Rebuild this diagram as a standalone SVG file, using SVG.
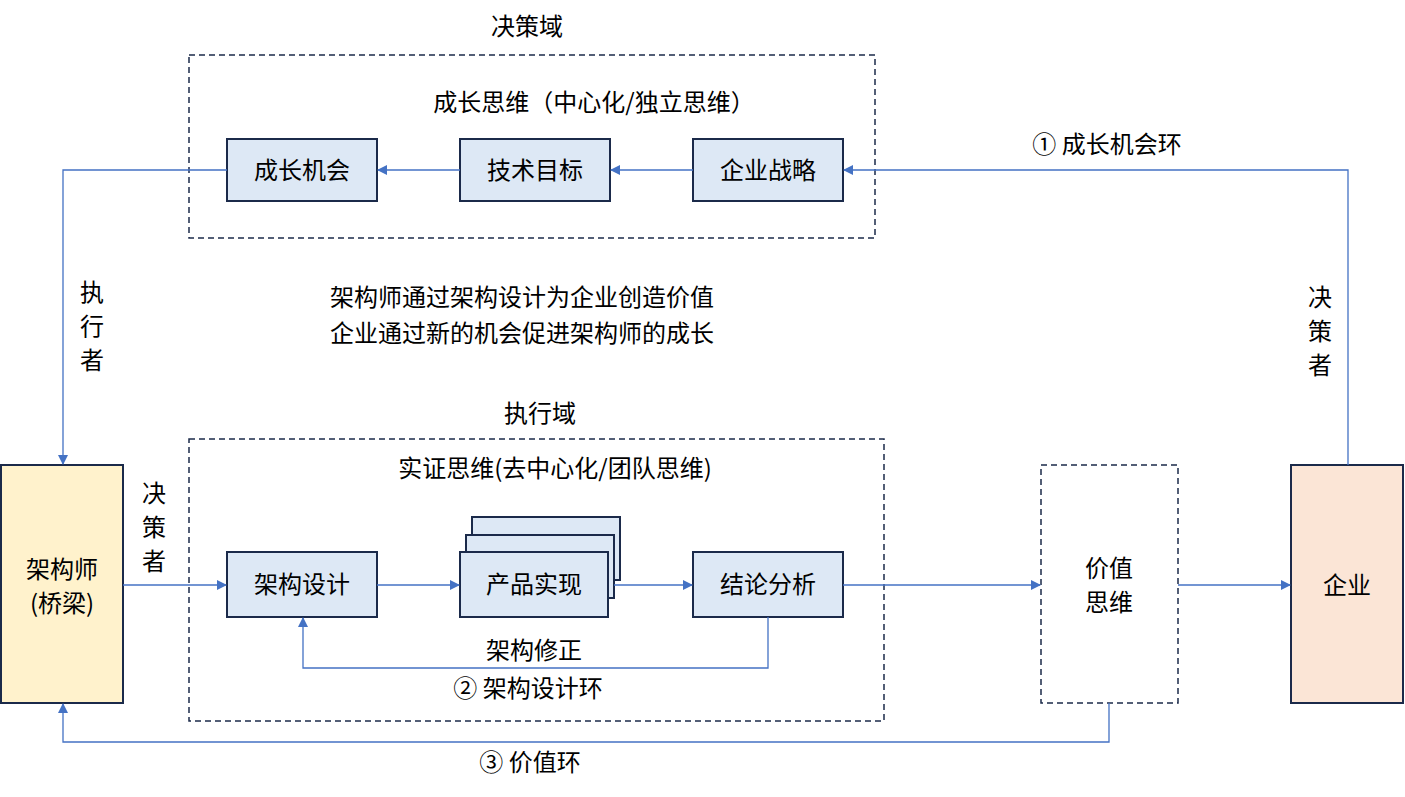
<svg xmlns="http://www.w3.org/2000/svg" width="1405" height="797" viewBox="0 0 1405 797">
<style>
text{font-family:"Noto Sans CJK SC","Liberation Sans",sans-serif;font-size:24px;fill:#000;}
.n{fill:#dde8f5;stroke:#1b2a4a;stroke-width:2;}
.d{fill:none;stroke:#1b2a4a;stroke-width:1.5;stroke-dasharray:6,4;}
.c{fill:none;stroke:#4472c4;stroke-width:1.3;}
</style>
<defs><marker id="a" markerWidth="10" markerHeight="10" refX="9" refY="5" orient="auto" markerUnits="userSpaceOnUse"><path d="M0,0L10,5L0,10z" fill="#4472c4"/></marker></defs>
<rect width="1405" height="797" fill="#fff"/>
<g id="domains">
<rect class="d" x="189" y="55" width="686" height="183"/>
<rect class="d" x="189" y="439" width="695" height="282"/>
<text x="527" y="35" text-anchor="middle">决策域</text>
<text x="594" y="111" text-anchor="middle">成长思维（中心化/独立思维）</text>
<text x="540" y="422" text-anchor="middle">执行域</text>
<text x="555" y="477" text-anchor="middle">实证思维(去中心化/团队思维)</text>
<text x="522" y="306" text-anchor="middle">架构师通过架构设计为企业创造价值</text>
<text x="522" y="342" text-anchor="middle">企业通过新的机会促进架构师的成长</text>
</g>
<g id="n1"><rect class="n" x="227" y="139" width="150" height="62"/><text x="302" y="179" text-anchor="middle">成长机会</text></g>
<g id="n2"><rect class="n" x="460" y="139" width="150" height="62"/><text x="535" y="179" text-anchor="middle">技术目标</text></g>
<g id="n3"><rect class="n" x="693" y="139" width="150" height="62"/><text x="768" y="179" text-anchor="middle">企业战略</text></g>
<g id="n4"><rect class="n" x="227" y="552" width="150" height="65"/><text x="302" y="593" text-anchor="middle">架构设计</text></g>
<g id="n5"><rect class="n" x="472" y="517" width="148" height="63"/><rect class="n" x="466" y="535" width="148" height="63"/><rect class="n" x="460" y="552" width="148" height="65"/><text x="534" y="593" text-anchor="middle">产品实现</text></g>
<g id="n6"><rect class="n" x="693" y="552" width="150" height="65"/><text x="768" y="593" text-anchor="middle">结论分析</text></g>
<g id="n7"><rect x="1" y="465" width="122" height="238" fill="#fff2cc" stroke="#1b2a4a" stroke-width="2"/><text x="62" y="578" text-anchor="middle">架构师</text><text x="62" y="612" text-anchor="middle">(桥梁)</text></g>
<g id="n8"><rect class="d" x="1041" y="465" width="137" height="238" fill="#fff"/><text x="1109" y="577" text-anchor="middle">价值</text><text x="1109" y="611" text-anchor="middle">思维</text></g>
<g id="n9"><rect x="1291" y="465" width="112" height="238" fill="#fbe5d6" stroke="#1b2a4a" stroke-width="2"/><text x="1347" y="594" text-anchor="middle">企业</text></g>
<g id="connectors">
<path class="c" d="M1348,465V170H844" marker-end="url(#a)"/>
<path class="c" d="M693,170H611" marker-end="url(#a)"/>
<path class="c" d="M460,170H378" marker-end="url(#a)"/>
<path class="c" d="M227,170H63V464" marker-end="url(#a)"/>
<path class="c" d="M123,585H226" marker-end="url(#a)"/>
<path class="c" d="M377,585H459" marker-end="url(#a)"/>
<path class="c" d="M614,585H692" marker-end="url(#a)"/>
<path class="c" d="M843,585H1040" marker-end="url(#a)"/>
<path class="c" d="M1178,585H1290" marker-end="url(#a)"/>
<path class="c" d="M768,617V668H303V618" marker-end="url(#a)"/>
<path class="c" d="M1109,703V742H63V704" marker-end="url(#a)"/>
</g>
<g id="labels">
<text x="1107" y="153" text-anchor="middle">① 成长机会环</text>
<text x="1320" y="306" text-anchor="middle">决</text><text x="1320" y="340" text-anchor="middle">策</text><text x="1320" y="374" text-anchor="middle">者</text>
<text x="92" y="301" text-anchor="middle">执</text><text x="92" y="335" text-anchor="middle">行</text><text x="92" y="369" text-anchor="middle">者</text>
<text x="154" y="502" text-anchor="middle">决</text><text x="154" y="536" text-anchor="middle">策</text><text x="154" y="570" text-anchor="middle">者</text>
<text x="534" y="659" text-anchor="middle">架构修正</text>
<text x="528" y="697" text-anchor="middle">② 架构设计环</text>
<text x="530" y="771" text-anchor="middle">③ 价值环</text>
</g>
</svg>
